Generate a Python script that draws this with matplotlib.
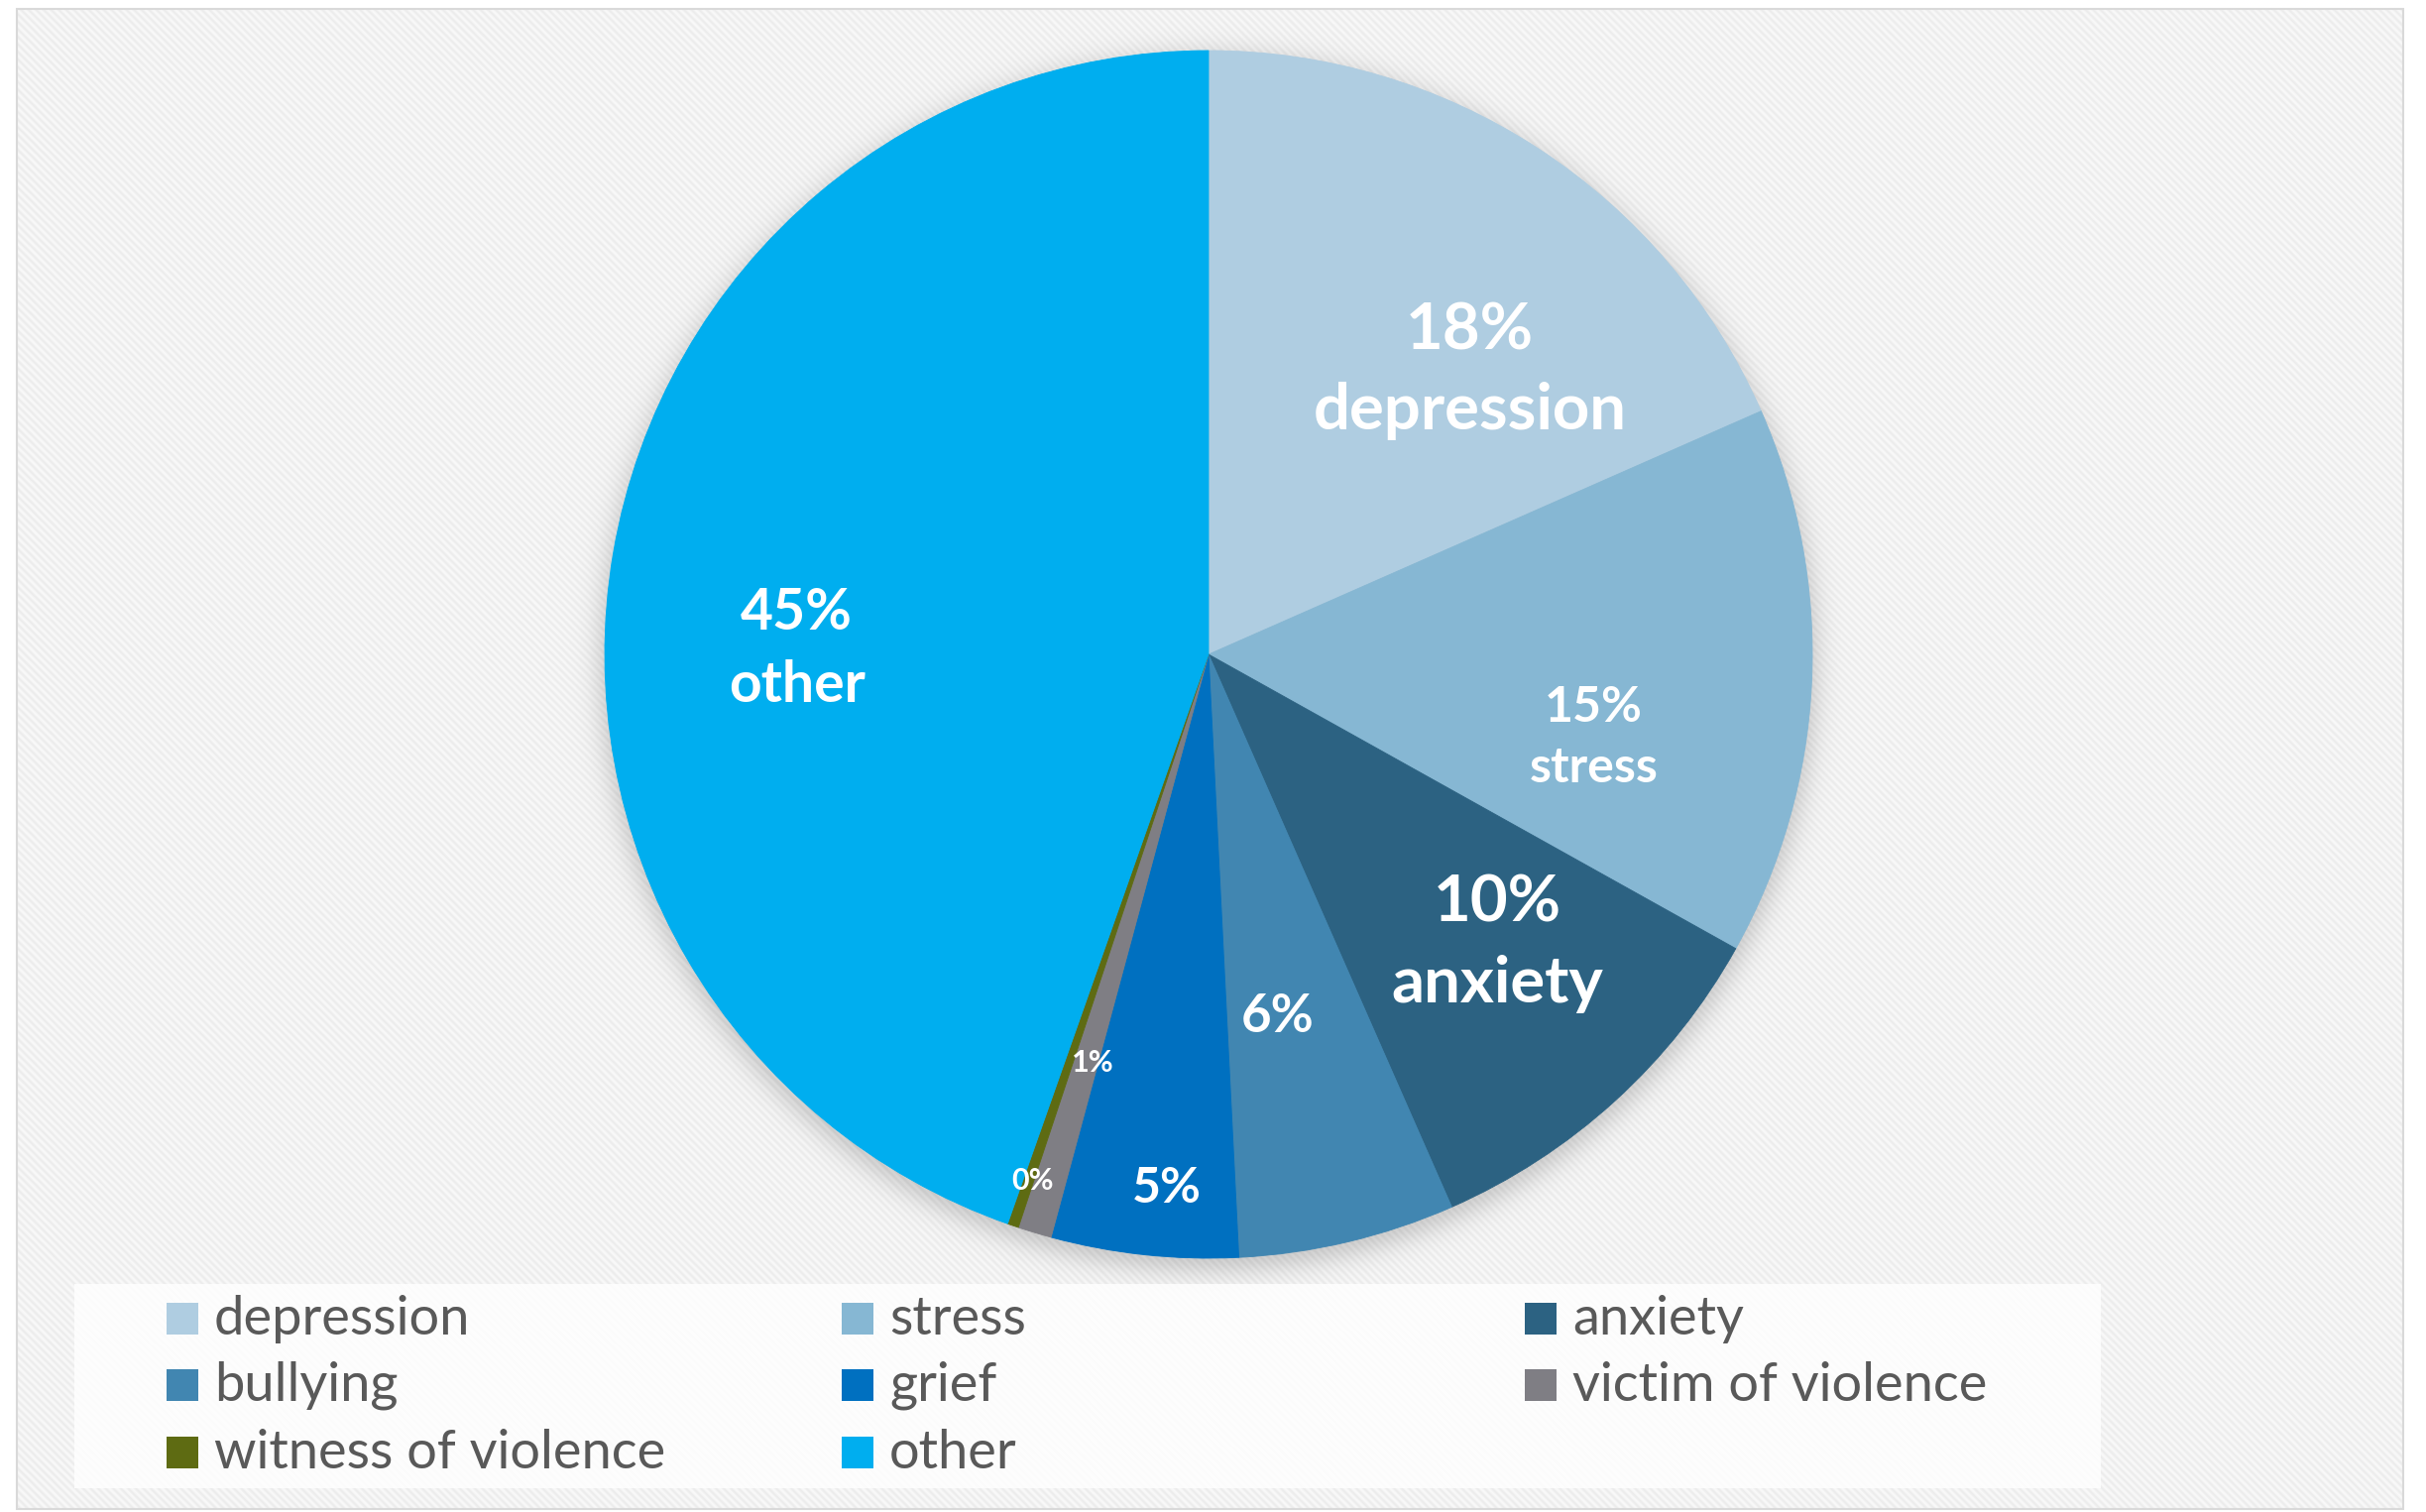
import numpy as np
import matplotlib
matplotlib.use("Agg")
import matplotlib.pyplot as plt
from matplotlib.patches import Rectangle

plt.rcParams["font.family"] = ["Lato", "DejaVu Sans"]

# ---- data -------------------------------------------------------------
categories = ["depression", "stress", "anxiety", "bullying", "grief",
              "victim of violence", "witness of violence", "other"]
shares = [18.4, 14.7, 10.3, 5.8, 5.0, 0.9, 0.3, 44.6]
slice_colors = ["#AFCDE1", "#86B7D3", "#2C6282", "#4186B1", "#0070C0",
                "#7F7E84", "#5E6B12", "#00AEEF"]

# which slices carry the category name under the percentage
named_labels = ["depression", "stress", "anxiety", "other"]

# ---- layout (pixels) --------------------------------------------------
W, H, DPI = 2447, 1525, 100
CX, CY, R = 1219.0, 660.0, 609.0          # pie centre / radius in pixels
FRAME = (17, 9, 2424, 1522)               # chart area x0, y0, x1, y1
LEGEND_BOX = (75, 1295, 2119, 1501)
LEGEND_COLS = [168, 849, 1538]
LEGEND_ROWS = [1314, 1381, 1449]
SWATCH = 32

# label placement in pie-radius units, font size, weight
label_layout = {
    "depression":           ((0.433, 0.469), 47, "bold"),
    "stress":               ((0.638, -0.138), 36, "bold"),
    "anxiety":              ((0.479, -0.479), 47, "bold"),
    "bullying":             ((0.115, -0.600), 38, "bold"),
    "grief":                ((-0.069, -0.885), 36, "bold"),
    "victim of violence":   ((-0.192, -0.677), 22, "bold"),
    "witness of violence":  ((-0.292, -0.872), 22, "bold"),
    "other":                ((-0.682, 0.008), 41, "bold"),
}

fig = plt.figure(figsize=(W / DPI, H / DPI), dpi=DPI)
fig.patch.set_facecolor("white")

# ---- background: striped chart area with soft shadow under the pie ----
ax_bg = fig.add_axes([0, 0, 1, 1], zorder=0)
ax_bg.set_xlim(0, W)
ax_bg.set_ylim(H, 0)
ax_bg.axis("off")

x0, y0, x1, y1 = FRAME
xs = np.arange(x0, x1) + 0.5
ys = np.arange(y0, y1) + 0.5
XX, YY = np.meshgrid(xs, ys)
period = 7.6
stripes = 0.952 + 0.024 * np.cos(2 * np.pi * (XX - YY) / period)

dist = np.hypot(XX - CX, YY - (CY + 8))
shadow = 0.20 * 0.5 * (1 - np.tanh((dist - (R + 4)) / 16.0))
gray = stripes * (1 - shadow)
rgb = np.dstack([gray, gray, gray])
ax_bg.imshow(rgb, extent=(x0, x1, y1, y0), interpolation="bilinear",
             zorder=0, aspect="auto")
ax_bg.add_patch(Rectangle((x0, y0), x1 - x0, y1 - y0, fill=False,
                          edgecolor="#D9D9D9", linewidth=1.5, zorder=3))

# legend panel
lx0, ly0, lx1, ly1 = LEGEND_BOX
ax_bg.add_patch(Rectangle((lx0, ly0), lx1 - lx0, ly1 - ly0,
                          facecolor="white", edgecolor="none",
                          alpha=0.82, zorder=2))

legend_order = [
    ["depression", "bullying", "witness of violence"],
    ["stress", "grief", "other"],
    ["anxiety", "victim of violence"],
]
for ci, column in enumerate(legend_order):
    for ri, name in enumerate(column):
        sx = LEGEND_COLS[ci]
        sy = LEGEND_ROWS[ri]
        ax_bg.add_patch(Rectangle((sx, sy), SWATCH, SWATCH,
                                  facecolor=slice_colors[categories.index(name)],
                                  edgecolor="none", zorder=4))
        ax_bg.text(sx + 48, sy + SWATCH, name, fontsize=39, color="#595959",
                   va="baseline", ha="left", zorder=5)

# ---- pie --------------------------------------------------------------
L = 1.03
ax = fig.add_axes([(CX - L * R) / W, (H - CY - L * R) / H,
                   2 * L * R / W, 2 * L * R / H], zorder=1)
wedges, _ = ax.pie(shares, colors=slice_colors, startangle=90,
                   counterclock=False, radius=1.0,
                   wedgeprops=dict(linewidth=0.6, antialiased=True))
for w, c in zip(wedges, slice_colors):
    w.set_edgecolor(c)
ax.set_xlim(-L, L)
ax.set_ylim(-L, L)
ax.set_aspect("equal", adjustable="box")
ax.axis("off")

for name, val in zip(categories, shares):
    (px, py), fs, fw = label_layout[name]
    txt = f"{val:.0f}%"
    if name in named_labels:
        txt = f"{txt}\n{name}"
    ax.text(px, py, txt, ha="center", va="center", color="white",
            fontsize=fs, fontweight=fw, linespacing=1.45,
            multialignment="center")

fig.savefig("out.png", dpi=DPI, facecolor="white")
